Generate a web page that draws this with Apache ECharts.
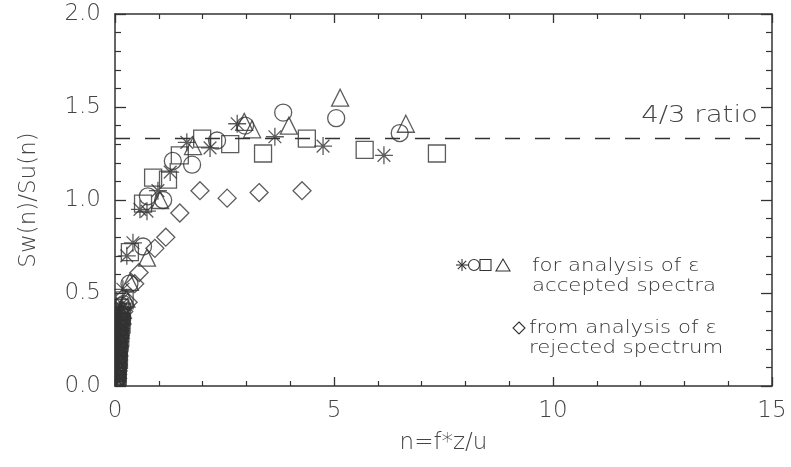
<!DOCTYPE html>
<html>
<head>
<meta charset="utf-8">
<script src="https://cdn.jsdelivr.net/npm/echarts@6/dist/echarts.min.js"></script>
<style>
html,body{margin:0;padding:0;background:#fff;}
#main{width:791px;height:467px;}
</style>
</head>
<body>
<div id="main"></div>
<script>
// accepted spectra (x = n, y = Sw/Su)
var starPts = [[3.65,1.34],[4.75,1.29],[6.14,1.24],[2.79,1.41],[2.17,1.28],[1.64,1.31],[1.26,1.15],[0.98,1.05],
  [0.57,0.95],[0.73,0.94],[0.41,0.77],[0.27,0.70],[0.18,0.52],
  [0.15,0.42],[0.12,0.36],[0.10,0.30],[0.09,0.25],[0.08,0.20],[0.07,0.15],[0.06,0.10],[0.06,0.06],[0.05,0.03],[0.11,0.33],[0.13,0.39],[0.08,0.18],
  [0.02,0.01],[0.03,0.04],[0.04,0.08],[0.05,0.12],[0.05,0.16],[0.06,0.21],[0.07,0.26],[0.08,0.29],[0.09,0.33],[0.1,0.37],[0.13,0.41],[0.16,0.44],[0.03,0.14],[0.04,0.19],[0.02,0.24],
  [0.14,0.31],[0.12,0.24],[0.1,0.16]];
var circlePts = [[3.84,1.47],[5.05,1.44],[6.5,1.36],[2.97,1.40],[2.33,1.32],[1.76,1.19],[1.32,1.21],[0.75,1.02],[1.1,1.0],
  [0.64,0.75],[0.33,0.55],
  [0.2,0.44],[0.14,0.38],[0.11,0.31],[0.1,0.27],[0.09,0.22],[0.08,0.17],[0.07,0.12],[0.06,0.08],[0.05,0.04],[0.12,0.35],
  [0.02,0.02],[0.03,0.06],[0.03,0.1],[0.04,0.14],[0.05,0.18],[0.06,0.23],[0.06,0.28],[0.08,0.31],[0.09,0.35],[0.11,0.39],[0.15,0.43],[0.01,0.08],[0.02,0.17],[0.04,0.27],
  [0.16,0.36],[0.13,0.28],[0.11,0.2]];
var squarePts = [[4.38,1.33],[3.38,1.25],[5.7,1.27],[7.35,1.25],[2.63,1.30],[1.99,1.33],[1.48,1.24],[0.87,1.12],[1.21,1.11],
  [0.64,0.98],[0.34,0.72],
  [0.22,0.46],[0.16,0.40],[0.13,0.34],[0.1,0.28],[0.09,0.23],[0.08,0.19],[0.07,0.13],[0.06,0.09],[0.06,0.05],[0.05,0.02],
  [0.01,0.03],[0.02,0.07],[0.03,0.11],[0.04,0.15],[0.05,0.2],[0.05,0.25],[0.07,0.3],[0.08,0.34],[0.1,0.38],[0.12,0.42],[0.02,0.13],[0.03,0.22],[0.05,0.32],
  [0.15,0.33],[0.12,0.26],[0.09,0.14]];
var trianglePts = [[5.14,1.55],[3.97,1.40],[6.64,1.41],[3.13,1.38],[2.95,1.42],[1.78,1.29],[1.03,1.0],[0.73,0.69],[0.34,0.56],
  [0.26,0.47],[0.18,0.41],[0.14,0.37],[0.11,0.32],[0.1,0.26],[0.09,0.21],[0.08,0.16],[0.07,0.11],[0.06,0.07],[0.05,0.03],
  [0.02,0.05],[0.03,0.09],[0.04,0.13],[0.05,0.17],[0.05,0.22],[0.07,0.27],[0.08,0.32],[0.09,0.36],[0.12,0.40],[0.02,0.19],[0.04,0.29],
  [0.17,0.38],[0.13,0.3]];
// rejected spectrum
var diamondPts = [[4.27,1.05],[3.29,1.04],[2.56,1.01],[1.94,1.05],[1.48,0.93],[1.16,0.80],[0.91,0.74],[0.55,0.61],
  [0.45,0.55],[0.3,0.45],[0.2,0.40],[0.15,0.33],[0.12,0.27],[0.1,0.21],[0.08,0.14],[0.07,0.08],[0.06,0.04],
  [0.02,0.02],[0.03,0.06],[0.04,0.1],[0.05,0.17],[0.06,0.24],[0.08,0.3],[0.03,0.2]];
var ratioLevel = 4 / 3;

var ink = '#333';
var fnt = 'DejaVu Sans';
var starPath = 'path://M0,5L10,5M5,0L5,10M1.46,1.46L8.54,8.54M8.54,1.46L1.46,8.54';

var chart = echarts.init(document.getElementById('main'));

function axisX(pos, withLabels) {
  return {
    type: 'value', position: pos, min: 0, max: 15, interval: 5, z: 10,
    axisLine: { show: true, onZero: false, lineStyle: { color: ink, width: 1.5 } },
    axisTick: { show: true, inside: true, length: 9, lineStyle: { color: ink, width: 1.3 } },
    minorTick: { show: true, splitNumber: 5, length: 5, lineStyle: { color: ink, width: 1.2 } },
    splitLine: { show: false },
    axisLabel: { show: withLabels, margin: 14, fontSize: 23, color: '#444', fontFamily: fnt, fontWeight: 200 },
    name: withLabels ? 'n=f*z/u' : '', nameLocation: 'middle', nameGap: 46,
    nameTextStyle: { fontSize: 23, color: '#444', fontFamily: fnt, fontWeight: 200 }
  };
}
function axisY(pos, withLabels) {
  return {
    type: 'value', position: pos, min: 0, max: 2, interval: 0.5, z: 10,
    axisLine: { show: true, onZero: false, lineStyle: { color: ink, width: 1.5 } },
    axisTick: { show: true, inside: true, length: 11, lineStyle: { color: ink, width: 1.3 } },
    minorTick: { show: true, splitNumber: 5, length: 6, lineStyle: { color: ink, width: 1.2 } },
    splitLine: { show: false },
    axisLabel: { show: withLabels, margin: 14, fontSize: 23, color: '#444', fontFamily: fnt, fontWeight: 200,
      formatter: function (v) { return v.toFixed(1); } },
    name: withLabels ? 'Sw(n)/Su(n)' : '', nameLocation: 'middle', nameGap: 74,
    nameTextStyle: { fontSize: 23, color: '#444', fontFamily: fnt, fontWeight: 200 }
  };
}

function hollow(name, data, symbol, size) {
  return {
    name: name, type: 'scatter', data: data, symbol: symbol, symbolSize: size,
    xAxisIndex: 0, yAxisIndex: 0,
    itemStyle: { color: 'none', borderColor: ink, borderWidth: 1.3 },
    emphasis: { disabled: true }
  };
}

var series = [
  hollow('star', starPts, starPath, 18),
  hollow('circle', circlePts, 'circle', 17),
  hollow('square', squarePts, 'rect', 17),
  hollow('triangle', trianglePts, 'triangle', 17),
  hollow('diamond', diamondPts, 'diamond', 18)
];
series[0].markLine = {
  silent: true, symbol: ['none', 'none'], label: { show: false },
  lineStyle: { color: ink, width: 1.3, type: [15, 15] },
  data: [[{ coord: [0, ratioLevel] }, { coord: [15, ratioLevel] }]]
};

var txt = { fontSize: 18, fill: '#333', fontFamily: fnt, fontWeight: 200 };
function t(x, y, s, extra, sx) {
  return { type: 'text', x: x, y: y, scaleX: sx || 1.18, z: 20,
    style: Object.assign({ text: s, verticalAlign: 'middle' }, txt, extra || {}) };
}
var sym = { fill: 'none', stroke: ink, lineWidth: 1.1 };
// white strips outside the plot frame: symbols are clipped at the frame like the original
var mask = { fill: '#fff' };

chart.setOption({
  animation: false,
  grid: { left: 115, right: 19, top: 14, bottom: 81 },
  xAxis: [axisX('bottom', true), axisX('top', false)],
  yAxis: [axisY('left', true), axisY('right', false)],
  series: series,
  graphic: [
    { type: 'rect', z: 5, silent: true, shape: { x: 0, y: 0, width: 114.5, height: 467 }, style: mask },
    { type: 'rect', z: 5, silent: true, shape: { x: 0, y: 386.5, width: 791, height: 81 }, style: mask },
    t(758, 116, '4/3 ratio', { align: 'right', fontSize: 23, fill: '#444' }, 1.2),
    // legend symbols
    { type: 'group', x: 462, y: 265, z: 20, children: [
      { type: 'line', shape: { x1: -6, y1: 0, x2: 6, y2: 0 }, style: sym },
      { type: 'line', shape: { x1: 0, y1: -6, x2: 0, y2: 6 }, style: sym },
      { type: 'line', shape: { x1: -4.2, y1: -4.2, x2: 4.2, y2: 4.2 }, style: sym },
      { type: 'line', shape: { x1: 4.2, y1: -4.2, x2: -4.2, y2: 4.2 }, style: sym }
    ] },
    { type: 'circle', z: 20, shape: { cx: 474, cy: 265, r: 5.5 }, style: sym },
    { type: 'rect', z: 20, shape: { x: 480, y: 259.5, width: 11, height: 11 }, style: sym },
    { type: 'polygon', z: 20, shape: { points: [[496, 271], [510, 271], [503, 259]] }, style: sym },
    { type: 'polygon', z: 20, shape: { points: [[519, 322], [525, 328], [519, 334], [513, 328]] }, style: sym },
    t(532, 266, 'for analysis of ε'),
    t(532, 286, 'accepted spectra'),
    t(529, 328, 'from analysis of ε'),
    t(529, 348, 'rejected spectrum')
  ]
});
</script>
</body>
</html>
